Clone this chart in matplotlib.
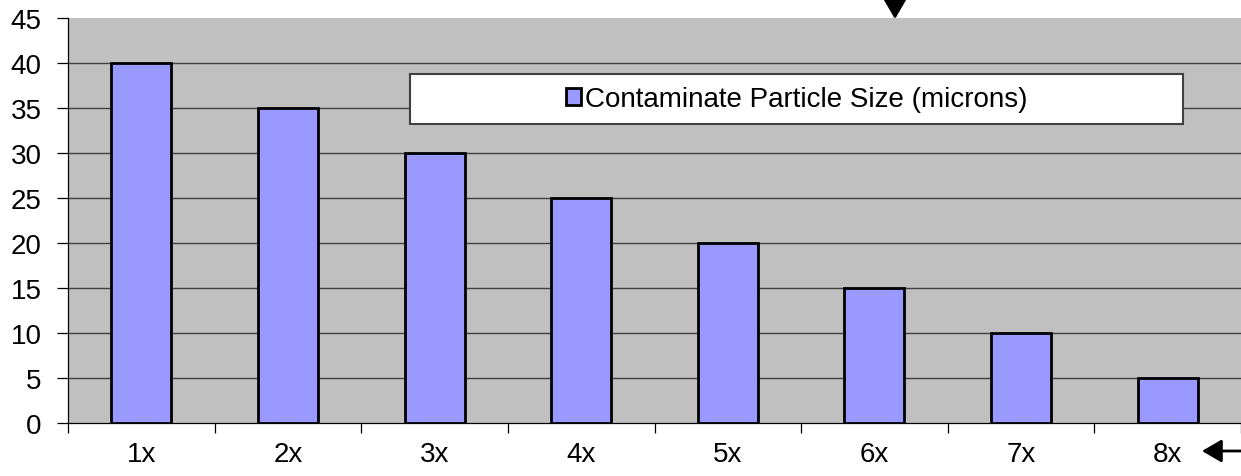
import matplotlib

matplotlib.use("Agg")
import matplotlib.pyplot as plt
from matplotlib.patches import Rectangle
import numpy as np

categories = ["1x", "2x", "3x", "4x", "5x", "6x", "7x", "8x"]
particle_size = [40, 35, 30, 25, 20, 15, 10, 5]
y_ticks = [0, 5, 10, 15, 20, 25, 30, 35, 40, 45]

plt.rcParams["font.family"] = ["Liberation Sans", "DejaVu Sans"]
FS = 20

fig = plt.figure(figsize=(12.41, 4.77), dpi=100)
ax = fig.add_axes([0.0548, 0.111, 0.9452, 0.849])
ax.set_facecolor("#C0C0C0")

x = np.arange(len(categories))
ax.bar(x, particle_size, width=0.41, color="#9999FF", edgecolor="black",
       linewidth=2, label="Contaminate Particle Size (microns)", zorder=3)

ax.set_xlim(-0.5, len(categories) - 0.5)
ax.set_ylim(0, 45)
ax.set_yticks(y_ticks)
# gridlines at every major tick except the top one
for v in y_ticks[1:-1]:
    ax.axhline(v, color="#404040", linewidth=1.0, zorder=1)

# category labels centered, tick marks between categories
ax.set_xticks(x)
ax.set_xticklabels(categories)
ax.set_xticks(np.arange(len(categories) + 1) - 0.5, minor=True)
ax.tick_params(axis="x", which="major", length=0, pad=13, labelsize=FS)
ax.tick_params(axis="x", which="minor", length=7, width=0.9, direction="out")
ax.tick_params(axis="y", length=8, width=0.9, labelsize=FS, pad=11)

for side in ("top", "right"):
    ax.spines[side].set_visible(False)
ax.spines["left"].set_linewidth(0.9)
ax.spines["bottom"].set_linewidth(0.9)

# legend box
box = (0.2916, 0.738, 0.659, 0.1235)
ax.add_patch(Rectangle(box[:2], box[2], box[3], transform=ax.transAxes,
                       facecolor="white", edgecolor="#404040", linewidth=1.5,
                       zorder=4))
leg = ax.legend(loc="center", bbox_to_anchor=(box[0] + box[2] / 2, box[1] + box[3] / 2),
                fontsize=FS, frameon=False, handlelength=0.55, handleheight=0.55,
                handletextpad=0.15, borderaxespad=0, borderpad=0)
leg.set_zorder(5)

# annotation arrows
arrow = dict(arrowstyle="-|>,head_length=0.6,head_width=0.35", color="black",
             lw=2, mutation_scale=20, shrinkA=0, shrinkB=0)
ax.annotate("", xy=(895 / 1241, 1 - 20 / 477), xytext=(895 / 1241, 1.0),
            xycoords="figure fraction", textcoords="figure fraction",
            arrowprops=arrow)
ax.annotate("", xy=(1202 / 1241, 1 - 452 / 477), xytext=(1.0, 1 - 452 / 477),
            xycoords="figure fraction", textcoords="figure fraction",
            arrowprops=arrow)

fig.savefig("out.png", dpi=100)
